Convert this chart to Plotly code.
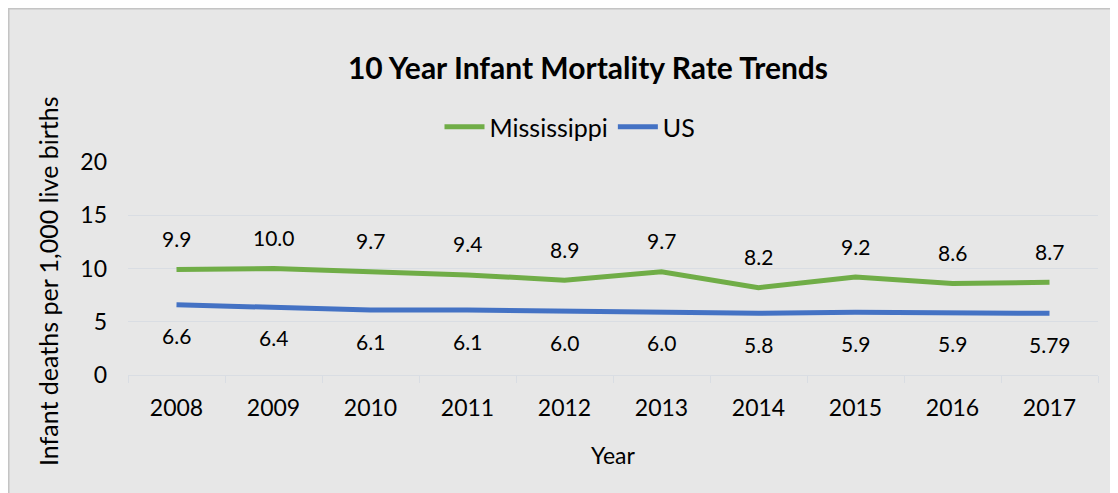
import plotly.graph_objects as go

years = ["2008", "2009", "2010", "2011", "2012", "2013", "2014", "2015", "2016", "2017"]
mississippi = [9.9, 10.0, 9.7, 9.4, 8.9, 9.7, 8.2, 9.2, 8.6, 8.7]
us = [6.6, 6.4, 6.1, 6.1, 6.0, 6.0, 5.8, 5.9, 5.9, 5.79]
ms_labels = ["9.9", "10.0", "9.7", "9.4", "8.9", "9.7", "8.2", "9.2", "8.6", "8.7"]
us_labels = ["6.6", "6.4", "6.1", "6.1", "6.0", "6.0", "5.8", "5.9", "5.9", "5.79"]

FONT = "Lato, Carlito, Calibri, sans-serif"
green = "#70ad47"
blue = "#4472c4"

fig = go.Figure()
fig.add_trace(go.Scatter(x=years, y=mississippi, mode="lines", name="Mississippi",
                         line=dict(color=green, width=5)))
fig.add_trace(go.Scatter(x=years, y=us, mode="lines", name="US",
                         line=dict(color=blue, width=5)))

# figure sits 8px in from the page corner (body margin)
# plot area in figure pixels: x 120..1090, y 154..367
W, H = 970, 213
L, T = 120, 154
def px(xp):
    return (xp - L) / W
def py(yp):
    return (T + H - yp) / H

# data labels: Mississippi above the line, US below
# (category index used for x, since numeric-looking strings are read as indices)
anns = []
for i, (y, t) in enumerate(zip(mississippi, ms_labels)):
    anns.append(dict(x=i, y=y, xref="x", yref="y", text=t, showarrow=False, yshift=31,
                     font=dict(size=21, color="black", family=FONT)))
for i, (y, t) in enumerate(zip(us, us_labels)):
    anns.append(dict(x=i, y=y, xref="x", yref="y", text=t, showarrow=False, yshift=-31,
                     font=dict(size=21, color="black", family=FONT)))

# y axis title, placed by hand (it sits a bit below the plot-area centre)
anns.append(dict(x=px(40), y=py(273), xref="paper", yref="paper", textangle=-90,
                 text="Infant deaths per 1,000 live births", showarrow=False,
                 xanchor="center", yanchor="middle",
                 font=dict(size=25, color="black", family=FONT)))

fig.update_layout(
    width=1110, height=485,
    margin=dict(l=120, r=20, t=154, b=118),
    paper_bgcolor="#e7e7e7", plot_bgcolor="#e7e7e7",
    font=dict(family=FONT, color="black"),
    title=dict(text="<b>10 Year Infant Mortality Rate Trends</b>",
               xref="container", x=580 / 1110, xanchor="center",
               yref="container", y=1 - 60 / 485, yanchor="middle",
               font=dict(size=30, family=FONT, color="black")),
    legend=dict(orientation="h", x=px(562), xanchor="center", y=py(119), yanchor="middle",
                font=dict(size=25, family=FONT), bgcolor="rgba(0,0,0,0)",
                itemwidth=40, tracegroupgap=0),
    showlegend=True,
    annotations=anns,
    shapes=[
        dict(type="line", xref="paper", yref="paper", x0=px(0), x1=px(1110), y0=py(0.5), y1=py(0.5),
             line=dict(color="#c4c4c4", width=2), layer="below"),
        dict(type="line", xref="paper", yref="paper", x0=px(0.5), x1=px(0.5), y0=py(0), y1=py(485),
             line=dict(color="#c4c4c4", width=2), layer="below"),
    ],
    xaxis=dict(type="category", range=[-0.5, 9.5], tickson="boundaries", ticks="outside",
               ticklen=7, tickcolor="#d9dde3", showline=True, linecolor="#d9dde3", linewidth=1,
               showgrid=False, tickfont=dict(size=23, family=FONT),
               ticklabelstandoff=12, tickangle=0,
               title=dict(text="Year", font=dict(size=23, family=FONT), standoff=28)),
    yaxis=dict(range=[0, 20], tickvals=[0, 5, 10, 15, 20], showgrid=True,
               gridcolor="#d9dde3", gridwidth=1, zeroline=False, showline=False,
               tickfont=dict(size=23, family=FONT), ticklabelstandoff=20),
)

fig.write_html("out.html")
